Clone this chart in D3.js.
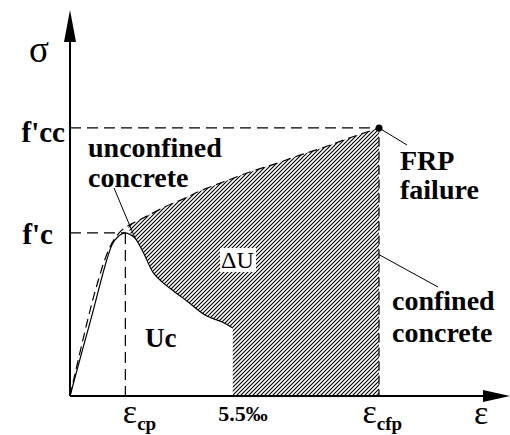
<!DOCTYPE html>
<html>
<head>
<meta charset="utf-8">
<script src="https://cdn.jsdelivr.net/npm/d3@7"></script>
<style>
  html, body { margin: 0; padding: 0; background: #fff; }
  svg text { font-family: "Liberation Serif", "Times New Roman", Times, serif; }
</style>
</head>
<body>
<svg id="chart" width="510" height="435"></svg>
<script>
// Stress-strain curves of unconfined and FRP-confined concrete (strain in ‰, stress in MPa)
const unconfinedStrain = [0, 0.70, 1.42, 1.62, 1.87, 2.06, 2.20, 2.47, 2.80, 3.11, 3.55, 3.99, 4.56, 5.14, 5.50];
const unconfinedStress = [0, 14.0, 27.8, 29.3, 30.0, 29.6, 29.0, 26.5, 22.8, 21.0, 19.1, 17.3, 14.9, 13.6, 12.5];

const confinedStrain = [0, 0.84, 1.35, 1.69, 1.96, 2.20, 2.53, 3.21, 3.89, 4.39, 5.24, 6.08, 6.93, 7.77, 8.61, 9.46, 10.44];
const confinedStress = [0, 19.1, 27.4, 30.2, 31.3, 32.0, 32.9, 34.8, 36.4, 37.7, 39.5, 41.2, 42.7, 44.3, 45.8, 47.5, 49.3];

// Characteristic values
const fc = 30.0;       // f'c
const fcc = 49.3;      // f'cc
const epsCp = 1.87;    // strain at peak of unconfined concrete
const epsUlt = 5.5;    // ultimate strain of unconfined concrete
const epsCfp = 10.44;  // strain at FRP failure

const strainTicks = [epsCp, epsUlt, epsCfp];
const strainTickMain = ["ε", "5.5‰", "ε"];
const strainTickSub = ["cp", "", "cfp"];
const stressTicks = [fc, fcc];
const stressTickLabels = ["f'c", "f'cc"];

const svg = d3.select("#chart");
const x = d3.scaleLinear().domain([0, 15]).range([70, 514]);
const y = d3.scaleLinear().domain([0, 71]).range([396, 10]);

const unconfined = unconfinedStrain.map((e, i) => [e, unconfinedStress[i]]);
const confined = confinedStrain.map((e, i) => [e, confinedStress[i]]);

const line = d3.line().x(d => x(d[0])).y(d => y(d[1])).curve(d3.curveCatmullRom.alpha(0.5));

// hatch pattern for the extra energy of confined concrete
const defs = svg.append("defs");
defs.append("pattern")
  .attr("id", "hatch").attr("patternUnits", "userSpaceOnUse")
  .attr("width", 4).attr("height", 4)
  .append("path")
  .attr("d", "M-1,1 l2,-2 M0,4 l4,-4 M3,5 l2,-2")
  .attr("stroke", "#000").attr("stroke-width", 1.1);

// hatched region: confined curve beyond the peak, failure line, axis, 5.5‰ line, unconfined descent
const upper = confined.filter(d => d[0] >= 1.96);
const lower = unconfined.filter(d => d[0] >= 1.96 && d[0] <= epsUlt).reverse();
const hatchPath = line(upper)
  + "L" + x(epsCfp) + "," + y(0)
  + "L" + x(epsUlt) + "," + y(0)
  + "L" + line(lower).slice(1) + "Z";
svg.append("path").attr("d", hatchPath).attr("fill", "url(#hatch)").attr("stroke", "none");

const dash = "11,6";

// reference lines
svg.append("line").attr("x1", x(0)).attr("x2", x(epsCfp)).attr("y1", y(fcc)).attr("y2", y(fcc))
  .attr("stroke", "#000").attr("stroke-width", 1.2).attr("stroke-dasharray", dash);
svg.append("line").attr("x1", x(0)).attr("x2", x(epsCp)).attr("y1", y(fc)).attr("y2", y(fc))
  .attr("stroke", "#000").attr("stroke-width", 1.2).attr("stroke-dasharray", dash);
svg.append("line").attr("x1", x(epsCp)).attr("x2", x(epsCp)).attr("y1", y(fc)).attr("y2", y(0))
  .attr("stroke", "#000").attr("stroke-width", 1.2).attr("stroke-dasharray", dash);

// confined concrete (dashed) including drop at FRP failure
svg.append("path").attr("d", line(confined) + "L" + x(epsCfp) + "," + y(0))
  .attr("fill", "none").attr("stroke", "#000").attr("stroke-width", 1.2).attr("stroke-dasharray", "9,5");

// unconfined concrete (solid)
svg.append("path").attr("d", line(unconfined))
  .attr("fill", "none").attr("stroke", "#000").attr("stroke-width", 1.2);

// FRP failure point
svg.append("circle").attr("cx", x(epsCfp)).attr("cy", y(fcc)).attr("r", 3.5).attr("fill", "#000");

// axes with arrows
svg.append("line").attr("x1", x(0)).attr("x2", x(0)).attr("y1", y(0)).attr("y2", 30)
  .attr("stroke", "#000").attr("stroke-width", 2);
svg.append("path").attr("d", `M${x(0)},10 L${x(0) - 6},42 L${x(0) + 6},42 Z`).attr("fill", "#000");
svg.append("line").attr("x1", x(0)).attr("x2", 492).attr("y1", y(0)).attr("y2", y(0))
  .attr("stroke", "#000").attr("stroke-width", 2);
svg.append("path").attr("d", `M510,${y(0)} L483,${y(0) - 6} L483,${y(0) + 6} Z`).attr("fill", "#000");

// strain axis labels
const xAxis = svg.append("g").attr("transform", `translate(0,${y(0)})`)
  .call(d3.axisBottom(x).tickValues(strainTicks).tickSize(0).tickFormat(""));
xAxis.attr("font-family", null);
xAxis.select(".domain").remove();
const xDx = [-3, -15, -17];
xAxis.selectAll(".tick text").each(function(d, i) {
  const t = d3.select(this).attr("text-anchor", "start").attr("x", xDx[i]).attr("y", 27).attr("dy", null)
    .attr("fill", "#000");
  if (strainTickSub[i]) {
    t.append("tspan").text(strainTickMain[i]).attr("font-size", 34);
    t.append("tspan").text(strainTickSub[i]).attr("font-size", 19).attr("font-weight", "bold").attr("dy", 7);
  } else {
    t.append("tspan").text(strainTickMain[i]).attr("font-size", 22).attr("font-weight", "bold").attr("dy", -2);
  }
});

// stress axis labels
const yAxis = svg.append("g").attr("transform", `translate(${x(0)},0)`)
  .call(d3.axisLeft(y).tickValues(stressTicks).tickSize(0).tickFormat((d, i) => stressTickLabels[i]));
yAxis.attr("font-family", null);
yAxis.select(".domain").remove();
const yDx = [-17, -5];
const yDy = [11, 14];
yAxis.selectAll(".tick text")
  .attr("x", (d, i) => yDx[i]).attr("dy", (d, i) => yDy[i])
  .attr("fill", "#000")
  .attr("font-size", 29).attr("font-weight", "bold");

// axis titles
svg.append("text").attr("x", 29).attr("y", 62).attr("font-size", 37).text("σ");
svg.append("text").attr("x", 474).attr("y", 424).attr("font-size", 34).text("ε");

// annotations
function label(lines, px, py, lh, size, weight) {
  const t = svg.append("text").attr("x", px).attr("y", py).attr("font-size", size).attr("font-weight", weight);
  lines.forEach((s, i) => t.append("tspan").attr("x", px).attr("dy", i ? lh : 0).text(s));
}
label(["unconfined", "concrete"], 88, 157, 30, 28, "bold");
label(["FRP", "failure"], 400, 170, 29, 28, "bold");
label(["confined", "concrete"], 392, 310, 32, 28, "bold");
label(["Uc"], 145, 347, 0, 27, "bold");

svg.append("line").attr("x1", 114).attr("y1", 188).attr("x2", x(2.2)).attr("y2", y(29.0))
  .attr("stroke", "#000").attr("stroke-width", 1);
svg.append("line").attr("x1", x(epsCfp)).attr("y1", y(fcc)).attr("x2", 407).attr("y2", 145)
  .attr("stroke", "#000").attr("stroke-width", 1);
svg.append("line").attr("x1", x(epsCfp)).attr("y1", y(26)).attr("x2", 438).attr("y2", 287)
  .attr("stroke", "#000").attr("stroke-width", 1);

// energy label on a white backing
svg.append("rect").attr("x", 220).attr("y", 248).attr("width", 36).attr("height", 24).attr("fill", "#fff");
svg.append("text").attr("x", 221).attr("y", 268).attr("font-size", 24).text("ΔU");
</script>
</body>
</html>
